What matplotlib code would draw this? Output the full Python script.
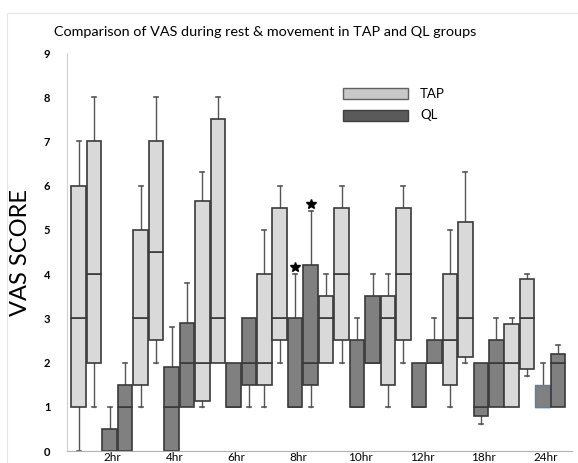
import matplotlib
matplotlib.use("Agg")
import matplotlib.pyplot as plt
from matplotlib.patches import Rectangle

plt.rcParams['font.family'] = ['Lato', 'DejaVu Sans']

groups = ["2hr", "4hr", "6hr", "8hr", "10hr", "12hr", "18hr", "24hr"]
series = ["TAP rest", "TAP movement", "QL rest", "QL movement"]

# per group, order: TAP rest, TAP movement, QL rest, QL movement
mins = [
    [0, 1, 0, 0], [1, 2, 0, 1], [1, 2, 1, 1], [1, 2, 1, 1],
    [2, 2, 1, 2], [1, 2, 1, 2], [1, 2, 0.6, 1], [1, 1.7, 1, 1],
]
q1s = [
    [1, 2, 0, 0], [1.5, 2.5, 0, 1], [1.12, 2, 1, 1.5], [1.5, 2.5, 1, 1.5],
    [2, 2.5, 1, 2], [1.5, 2.5, 1, 2], [1.5, 2.13, 0.8, 1], [1, 1.85, 1, 1],
]
medians = [
    [3, 4, 0, 1], [3, 4.5, 1, 2], [2, 3, 1, 2], [2, 3, 1, 2],
    [3, 4, 1, 2], [3, 4, 1, 2], [2.5, 3, 1, 2], [2, 3, 1, 2],
]
q3s = [
    [6, 7, 0.5, 1.5], [5, 7, 1.9, 2.9], [5.65, 7.5, 2, 3], [4, 5.5, 3, 4.2],
    [3.5, 5.5, 2.5, 3.5], [3.5, 5.5, 2, 2.5], [4, 5.18, 2, 2.5], [2.88, 3.88, 1.5, 2.2],
]
maxs = [
    [7, 8, 1, 2], [6, 8, 2.8, 3.8], [6.3, 8, 2, 3], [5, 6, 4, 5.42],
    [4, 6, 3, 4], [4, 6, 2, 3], [5, 6.32, 2, 3], [3, 4, 2, 2.4],
]
# significance stars: (group index, series index)
stars = [(3, 2), (3, 3)]

light = "#d9d9d9"
dark = "#808080"
edge = "#3a3a3a"
wcol = "#555555"

fig = plt.figure(figsize=(5.78, 4.63), dpi=100)
ax = fig.add_axes([67 / 578, 12 / 463, 505 / 578, 398 / 463])

bw = 0.94
for g in range(len(groups)):
    for s in range(4):
        x = g * 4 + s + 0.5
        fc = light if s < 2 else dark
        ec = edge
        lw = 1.2
        if g == 7 and s == 2:
            ec = "#5a7fa8"
            lw = 1.0
        lo, m, hi = q1s[g][s], medians[g][s], q3s[g][s]
        wmin, wmax = mins[g][s], maxs[g][s]
        if wmax > hi:
            ax.plot([x, x], [hi, wmax], color=wcol, lw=1.0, zorder=1)
            ax.plot([x - 0.13, x + 0.13], [wmax, wmax], color=wcol, lw=1.2, zorder=1)
        if wmin < lo:
            ax.plot([x, x], [wmin, lo], color=wcol, lw=1.0, zorder=1)
            ax.plot([x - 0.13, x + 0.13], [wmin, wmin], color=wcol, lw=1.2, zorder=1)
        ax.add_patch(Rectangle((x - bw / 2, lo), bw, m - lo, facecolor=fc,
                               edgecolor=ec, lw=lw, zorder=2))
        ax.add_patch(Rectangle((x - bw / 2, m), bw, hi - m, facecolor=fc,
                               edgecolor=ec, lw=lw, zorder=2))

for g, s in stars:
    x = g * 4 + s + 0.5
    ax.plot(x, maxs[g][s] + 0.17, marker='*', color='black', ms=7, zorder=3)

ax.set_xlim(-0.26, 32.4)
ax.set_ylim(0, 9)
ax.set_yticks(range(10))
ax.set_yticklabels([str(i) for i in range(10)], fontsize=8, fontweight='bold')
ax.tick_params(axis='y', length=0, pad=12)
ax.set_xticks([g * 4 + 2.7 for g in range(len(groups))])
ax.set_xticklabels(groups, fontsize=8.5)
ax.tick_params(axis='x', length=0, pad=0.5)
for sp in ['top', 'right']:
    ax.spines[sp].set_visible(False)
ax.spines['left'].set_color('#d0d0d0')
ax.spines['bottom'].set_color('#b0b0b0')

ax.set_ylabel("VAS SCORE", fontsize=17, labelpad=4)
ax.yaxis.set_label_coords(-0.072, 0.5)

fig.text(265 / 578, 1 - 32 / 463,
         "Comparison of VAS during rest & movement in TAP and QL groups",
         ha='center', va='center', fontsize=10.4)

# legend
fig.patches.append(Rectangle((343 / 578, 1 - 99 / 463), 65 / 578, 11 / 463,
                             facecolor="#c8c8c8", edgecolor="#606060", lw=1,
                             transform=fig.transFigure))
fig.patches.append(Rectangle((343 / 578, 1 - 121 / 463), 65 / 578, 11 / 463,
                             facecolor="#5a5a5a", edgecolor="#404040", lw=1,
                             transform=fig.transFigure))
fig.text(420 / 578, 1 - 94 / 463, "TAP", fontsize=9.5, va='center')
fig.text(420 / 578, 1 - 115 / 463, "QL", fontsize=9.5, va='center')

# chart frame
fig.patches.append(Rectangle((7 / 578, -0.01), 0.99, 1 - 13 / 463 + 0.01,
                             facecolor='none', edgecolor='#e6e6e6', lw=0.8,
                             transform=fig.transFigure))

fig.savefig("out.png", dpi=100)
